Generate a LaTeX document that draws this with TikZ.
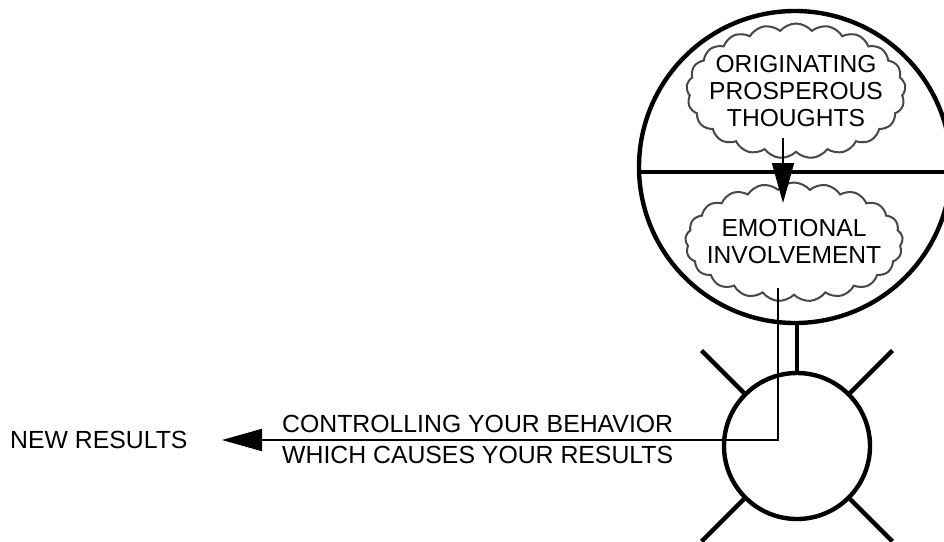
\documentclass[tikz,border=0pt]{standalone}
\usepackage{fontspec}
\setmainfont{Liberation Sans}
\usetikzlibrary{shapes.symbols,arrows.meta,calc}
\tikzset{
  thick ring/.style={circle, draw, line width=4.4pt, inner sep=0pt},
  ray/.style={line width=4.4pt},
  puff/.style={cloud, cloud puffs=21, cloud puff arc=100, cloud ignores aspect,
    draw=black!72, line width=2pt, fill=white, inner ysep=0pt, inner xsep=-11pt,
    align=center, font=\fontsize{24.6}{27}\selectfont},
  lbl/.style={inner sep=0pt, font=\fontsize{24.8}{27}\selectfont},
  bigtip/.style={-{Triangle[length=40pt,width=22pt]}, line width=2pt}
}
\begin{document}
\begin{tikzpicture}[x=1pt,y=-1pt]
\useasboundingbox (0,0) rectangle (944,541);
\clip (0,0) rectangle (944,541);
% big circle split in two
\node[thick ring, minimum size=312pt] (big) at (795,167) {};
\coordinate (hl) at (639,172);
\coordinate (hr) at (952,172);
\draw[line width=4.4pt] (hl) -- (hr);
% small circle with rays
\node[thick ring, minimum size=146pt] (small) at (797,446) {};
\draw[line width=3.8pt] (small.north) -- (small.north |- big.south);
\foreach \a in {45,135,225,315}
  \draw[ray] (small.\a) -- ($(small.center)!135pt!(small.\a)$);
% clouds
\node[puff, minimum height=135pt] (c1) at (796,91)
  {ORIGINATING\\PROSPEROUS\\THOUGHTS};
\node[puff, minimum height=119pt] (c2) at (794,242)
  {EMOTIONAL\\INVOLVEMENT};
% arrow between clouds
\coordinate (a1) at (783,138);
\coordinate (a2) at (783,203);
\draw[bigtip] (a1) -- (a2);
% path to results
\coordinate (b1) at (778,288);
\coordinate (b2) at (778,440);
\node[lbl, anchor=base west] (res) at (10,448) {NEW RESULTS};
\coordinate (tip) at (222,440);
\draw[bigtip] (b1) -- (b2) -- (tip);
\node[lbl, anchor=base west] (t1) at (282,432) {CONTROLLING YOUR BEHAVIOR};
\node[lbl, anchor=base west] (t2) at (282,463) {WHICH CAUSES YOUR RESULTS};
\end{tikzpicture}
\end{document}
